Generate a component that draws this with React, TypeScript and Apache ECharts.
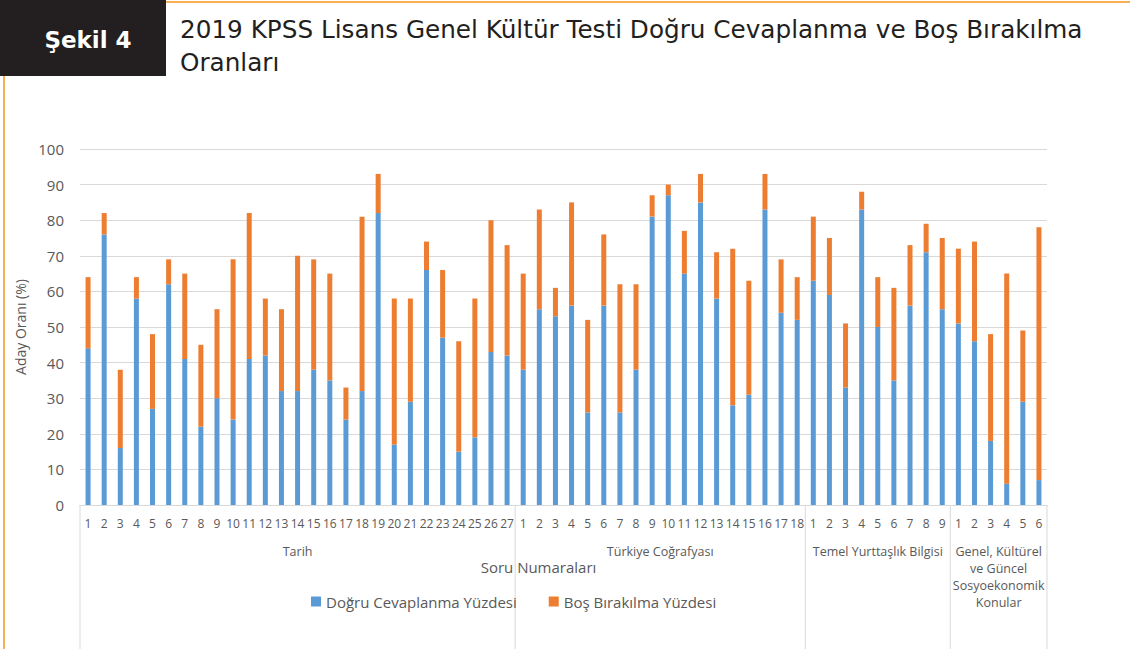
import React, { useEffect, useRef } from "react";
import * as echarts from "echarts";

const groupNames = [
  "Tarih",
  "Türkiye Coğrafyası",
  "Temel Yurttaşlık Bilgisi",
  "Genel, Kültürel\nve Güncel\nSosyoekonomik\nKonular",
];
const groupSizes = [27, 18, 9, 6];

const seriesNames = ["Doğru Cevaplanma Yüzdesi", "Boş Bırakılma Yüzdesi"];

const correctPct = [
  44, 76, 16, 58, 27, 62, 41, 22, 30, 24, 41, 42, 32, 32, 38, 35, 24, 32, 82, 17, 29, 66, 47, 15, 19, 43, 42,
  38, 55, 53, 56, 26, 56, 26, 38, 81, 87, 65, 85, 58, 28, 31, 83, 54, 52,
  63, 59, 33, 83, 50, 35, 56, 71, 55,
  51, 46, 18, 6, 29, 7,
];
const blankPct = [
  20, 6, 22, 6, 21, 7, 24, 23, 25, 45, 41, 16, 23, 38, 31, 30, 9, 49, 11, 41, 29, 8, 19, 31, 39, 37, 31,
  27, 28, 8, 29, 26, 20, 36, 24, 6, 3, 12, 8, 13, 44, 32, 10, 15, 12,
  18, 16, 18, 5, 14, 26, 17, 8, 20,
  21, 28, 30, 59, 20, 71,
];

const yTicks = { min: 0, max: 100, interval: 10 };

const categories: string[] = [];
groupSizes.forEach((n, g) => {
  for (let i = 1; i <= n; i++) categories.push(`${g}-${i}`);
});

const FONT = "'Open Sans', sans-serif";
const TITLE_FONT = "'DejaVu Sans', sans-serif";
const GRAY = "#595959";
const LINE = "#d9d9d9";
const ORANGE_FRAME = "#f7941d";

export default function App() {
  const ref = useRef<HTMLDivElement>(null);
  useEffect(() => {
    if (!ref.current) return;
    const chart = echarts.init(ref.current, undefined, { renderer: "svg" });
    chart.setOption({
      animation: false,
      textStyle: { fontFamily: FONT },
      grid: { left: 80, right: 83, top: 149, bottom: 144, containLabel: false },
      legend: {
        left: 306,
        top: 589,
        itemWidth: 10,
        itemHeight: 10,
        itemGap: 32,
        icon: "rect",
        textStyle: { fontSize: 15, color: GRAY, fontFamily: FONT },
        data: seriesNames,
      },
      xAxis: {
        type: "category",
        data: categories,
        name: "Soru Numaraları",
        nameLocation: "middle",
        nameGap: 54,
        nameTextStyle: { fontSize: 15, color: GRAY, fontFamily: FONT, padding: [0, 50, 0, 0] },
        axisLine: { lineStyle: { color: LINE } },
        axisTick: { show: false },
        axisLabel: {
          interval: 0,
          fontSize: 12,
          color: GRAY,
          margin: 12,
          formatter: (v: string) => v.split("-")[1],
        },
      },
      yAxis: {
        type: "value",
        min: yTicks.min,
        max: yTicks.max,
        interval: yTicks.interval,
        name: "Aday Oranı (%)",
        nameLocation: "middle",
        nameRotate: 90,
        nameGap: 41,
        nameTextStyle: { fontSize: 14, color: GRAY, fontFamily: FONT },
        axisLine: { show: false },
        axisTick: { show: false },
        axisLabel: { fontSize: 15, color: GRAY, margin: 16 },
        splitLine: { lineStyle: { color: LINE, width: 1.2 } },
      },
      series: [
        {
          name: seriesNames[0],
          type: "bar",
          stack: "total",
          data: correctPct,
          barWidth: 5,
          itemStyle: { color: "#5B9BD5" },
        },
        {
          name: seriesNames[1],
          type: "bar",
          stack: "total",
          data: blankPct,
          barWidth: 5,
          itemStyle: { color: "#ED7D31" },
        },
      ],
    });

    const c0 = chart.convertToPixel({ xAxisIndex: 0 }, 0) as number;
    const c1 = chart.convertToPixel({ xAxisIndex: 0 }, 1) as number;
    const bw = c1 - c0;
    const base = chart.convertToPixel({ yAxisIndex: 0 }, 0) as number;
    const bottom = 649;
    const bounds: number[] = [c0 - bw / 2];
    let acc = 0;
    groupSizes.forEach((n) => {
      acc += n;
      bounds.push(c0 - bw / 2 + acc * bw);
    });

    const graphics: any[] = [
      { type: "rect", shape: { x: 0, y: 0, width: 166, height: 76 }, style: { fill: "#231f20" } },
      {
        type: "text",
        x: 88,
        y: 40,
        style: {
          text: "Şekil 4",
          fill: "#ffffff",
          font: `600 23px ${TITLE_FONT}`,
          textAlign: "center",
          textVerticalAlign: "middle",
        },
      },
      {
        type: "line",
        shape: { x1: 166, y1: 2, x2: 1130, y2: 2 },
        style: { stroke: ORANGE_FRAME, lineWidth: 1.5 },
      },
      {
        type: "line",
        shape: { x1: 4, y1: 76, x2: 4, y2: 649 },
        style: { stroke: ORANGE_FRAME, lineWidth: 1.5 },
      },
      {
        type: "text",
        x: 180,
        y: 29,
        style: {
          text: "2019 KPSS Lisans Genel Kültür Testi Doğru Cevaplanma ve Boş Bırakılma",
          fill: "#231f20",
          font: `24.7px ${TITLE_FONT}`,
          textVerticalAlign: "middle",
        },
      },
      {
        type: "text",
        x: 180,
        y: 62,
        style: {
          text: "Oranları",
          fill: "#231f20",
          font: `24.7px ${TITLE_FONT}`,
          textVerticalAlign: "middle",
        },
      },
    ];
    bounds.forEach((x) => {
      graphics.push({
        type: "line",
        shape: { x1: x, y1: base, x2: x, y2: bottom },
        style: { stroke: LINE, lineWidth: 1 },
      });
    });
    groupNames.forEach((name, i) => {
      graphics.push({
        type: "text",
        x: (bounds[i] + bounds[i + 1]) / 2,
        y: base + 38,
        style: {
          text: name,
          fill: GRAY,
          font: `12.5px ${FONT}`,
          textAlign: "center",
          textVerticalAlign: "top",
          lineHeight: 17,
        },
      });
    });
    chart.setOption({ graphic: graphics });

    return () => chart.dispose();
  }, []);
  return (
    <div
      ref={ref}
      style={{ position: "fixed", left: 0, top: 0, width: 1130, height: 649, background: "#fff" }}
    />
  );
}
